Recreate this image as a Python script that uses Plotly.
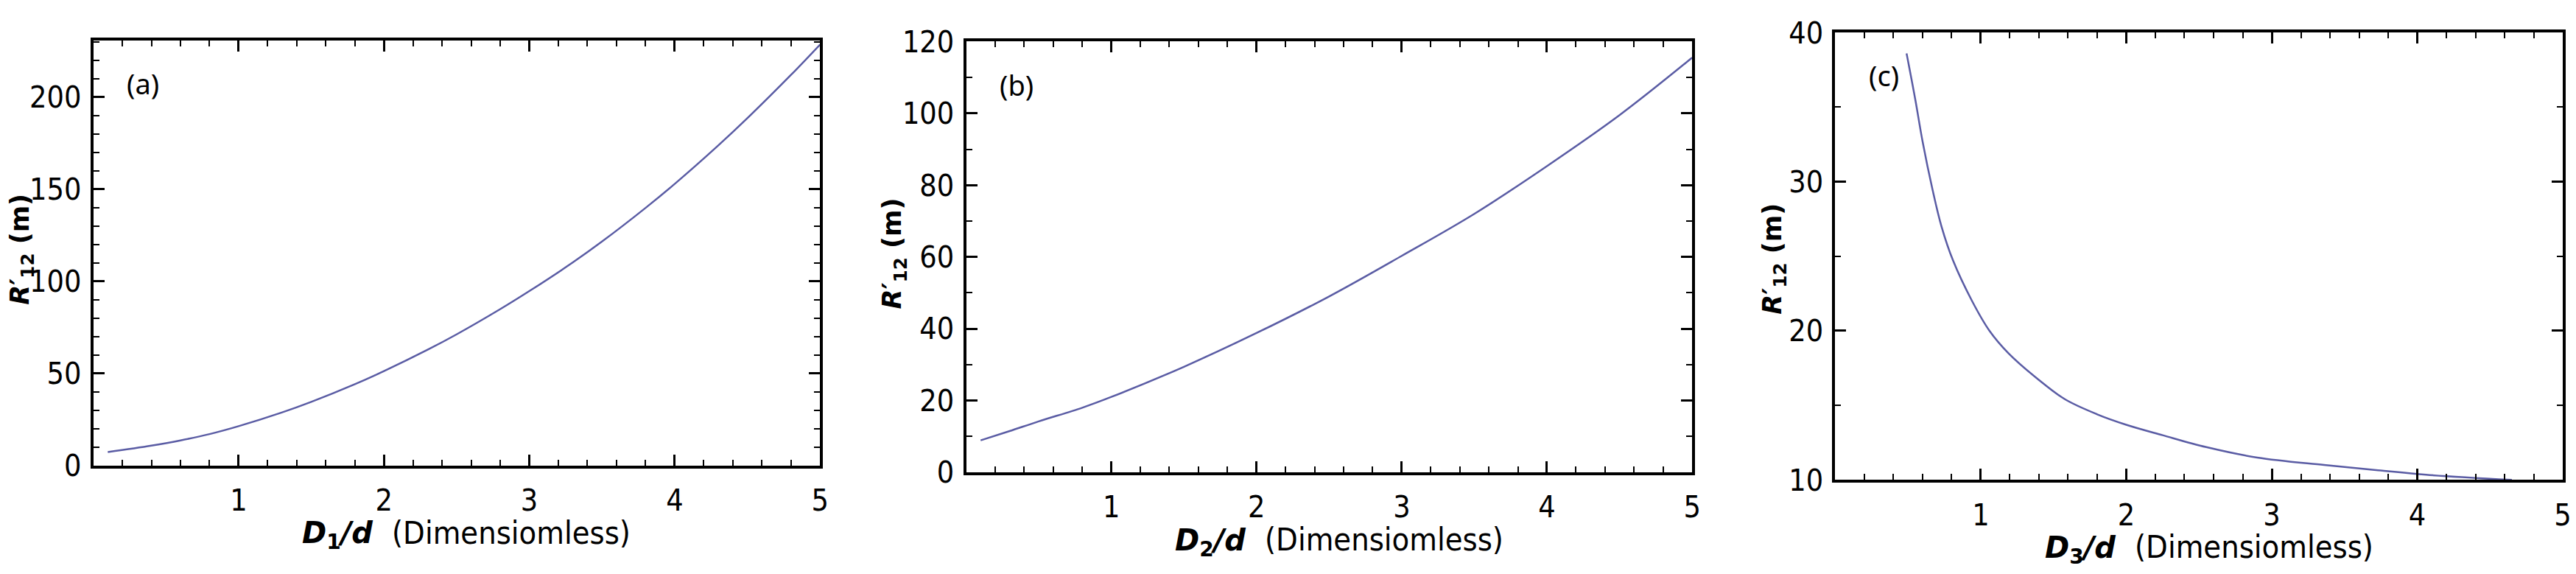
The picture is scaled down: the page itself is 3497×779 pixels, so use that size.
import plotly.graph_objects as go

# ---- data ----
x_a = [0.1, 0.4, 0.6, 0.8, 1.0, 1.3, 1.5, 1.8, 2.0, 2.3, 2.5, 2.8, 3.0, 3.3, 3.5, 3.8, 4.0, 4.3, 4.5, 4.8, 5.0]
y_a = [7.3, 10.8, 13.6, 17.0, 21.3, 28.8, 34.5, 44.1, 51.2, 62.8, 71.2, 84.9, 94.7, 110.3, 121.6, 139.9, 152.9, 173.8, 188.6, 212.1, 228.6]

x_b = [0.1, 0.3, 0.5, 0.8, 1.0, 1.5, 2.0, 2.5, 3.0, 3.5, 4.0, 4.5, 5.0]
y_b = [8.9, 11.5, 14.2, 18.0, 21.0, 29.4, 38.8, 49.0, 60.3, 72.0, 85.3, 99.5, 115.5]

x_c = [0.49, 0.55, 0.60, 0.67, 0.73, 0.81, 0.94, 1.06, 1.19, 1.40, 1.58, 1.80, 2.00, 2.25, 2.55, 2.90, 3.36, 3.73, 4.06, 4.65]
y_c = [38.6, 35.5, 32.7, 29.4, 27.0, 24.7, 22.0, 20.0, 18.5, 16.7, 15.4, 14.4, 13.7, 13.0, 12.2, 11.5, 11.0, 10.65, 10.35, 10.0]

panel_tags = ["(a)", "(b)", "(c)"]
x_title_main = ["D</i></b><b><sub>1</sub></b><b><i>/d", "D</i></b><b><sub>2</sub></b><b><i>/d", "D</i></b><b><sub>3</sub></b><b><i>/d"]
x_title_unit = "(Dimensiomless)"
y_title = "<b><i>R</i>′<sub>12</sub> (m)</b>"
y_ranges = [[0, 231], [0, 120], [10, 40]]
y_dticks = [50, 20, 10]
y_minor = [10, 10, 5]
x_tickvals = [1, 2, 3, 4, 5]

W, H = 3497, 779
# plot-area pixel boxes (left, top, right, bottom)
boxes = [(119, 24, 1109, 639), (1308, 26, 2297, 649), (2492, 13, 3483, 660)]
ytitle_pos = [(22, 326), (1210, 332), (2408, 340)]
xtitle_y = [740, 750, 761]

LINE = "#5a5ca4"
NARROW = "Liberation Sans Narrow, Arial Narrow, DejaVu Sans Condensed, sans-serif"
TICKFONT = dict(family=NARROW, size=41, color="black")

fig = go.Figure()
series = [(x_a, y_a), (x_b, y_b), (x_c, y_c)]
for i, (xs, ys) in enumerate(series):
    sfx = "" if i == 0 else str(i + 1)
    fig.add_trace(go.Scatter(x=xs, y=ys, mode="lines",
                             line=dict(color=LINE, width=2.5, shape="spline", smoothing=1.0),
                             xaxis="x" + sfx, yaxis="y" + sfx, showlegend=False, hoverinfo="skip"))

annotations = []
for i, (l, t, r, b) in enumerate(boxes):
    sfx = "" if i == 0 else str(i + 1)
    xd = [l / W, r / W]
    yd = [1 - b / H, 1 - t / H]
    common = dict(showline=True, linecolor="black", linewidth=4, mirror="allticks", ticks="inside",
                  tickcolor="black", tickwidth=3, ticklen=15, showgrid=False, zeroline=False,
                  tickfont=TICKFONT)
    fig.layout["xaxis" + sfx] = dict(domain=xd, anchor="y" + sfx, range=[0, 5], tickvals=x_tickvals,
                                     minor=dict(dtick=0.2, tick0=0, ticks="inside", ticklen=8, tickwidth=2,
                                                tickcolor="black", showgrid=False),
                                     ticklabelstandoff=8, **common)
    fig.layout["yaxis" + sfx] = dict(domain=yd, anchor="x" + sfx, range=y_ranges[i], dtick=y_dticks[i],
                                     tick0=y_ranges[i][0],
                                     minor=dict(dtick=y_minor[i], tick0=0, ticks="inside", ticklen=8, tickwidth=2,
                                                tickcolor="black", showgrid=False),
                                     ticklabelstandoff=4, **common)
    # panel tag
    annotations.append(dict(text=panel_tags[i], xref="paper", yref="paper", x=(l + 44) / W, y=1 - (t + 62) / H,
                            xanchor="left", yanchor="middle", showarrow=False,
                            font=dict(family="Noto Sans, Open Sans, sans-serif", size=38, color="black")))
    cx = (l + r) / 2
    # x title: bold-italic symbol part
    annotations.append(dict(text="<b><i>" + x_title_main[i] + "</i></b>",
                            xref="paper", yref="paper", x=(cx - 112) / W, y=1 - xtitle_y[i] / H,
                            xanchor="right", yanchor="middle", showarrow=False,
                            font=dict(family="DejaVu Sans, Verdana, sans-serif", size=40, color="black")))
    # x title: unit part
    annotations.append(dict(text=x_title_unit,
                            xref="paper", yref="paper", x=(cx - 90) / W, y=1 - (xtitle_y[i] - 4) / H,
                            xanchor="left", yanchor="middle", showarrow=False,
                            font=dict(family=NARROW, size=43, color="black")))
    # y title
    yx, yy = ytitle_pos[i]
    annotations.append(dict(text=y_title, textangle=-90,
                            xref="paper", yref="paper", x=yx / W, y=1 - yy / H,
                            xanchor="center", yanchor="middle", showarrow=False,
                            font=dict(family="DejaVu Sans, Verdana, sans-serif", size=35, color="black")))

fig.update_layout(width=W, height=H, margin=dict(l=0, r=0, t=0, b=0), plot_bgcolor="white",
                  paper_bgcolor="white", annotations=annotations, showlegend=False)
fig.write_html("out.html")
